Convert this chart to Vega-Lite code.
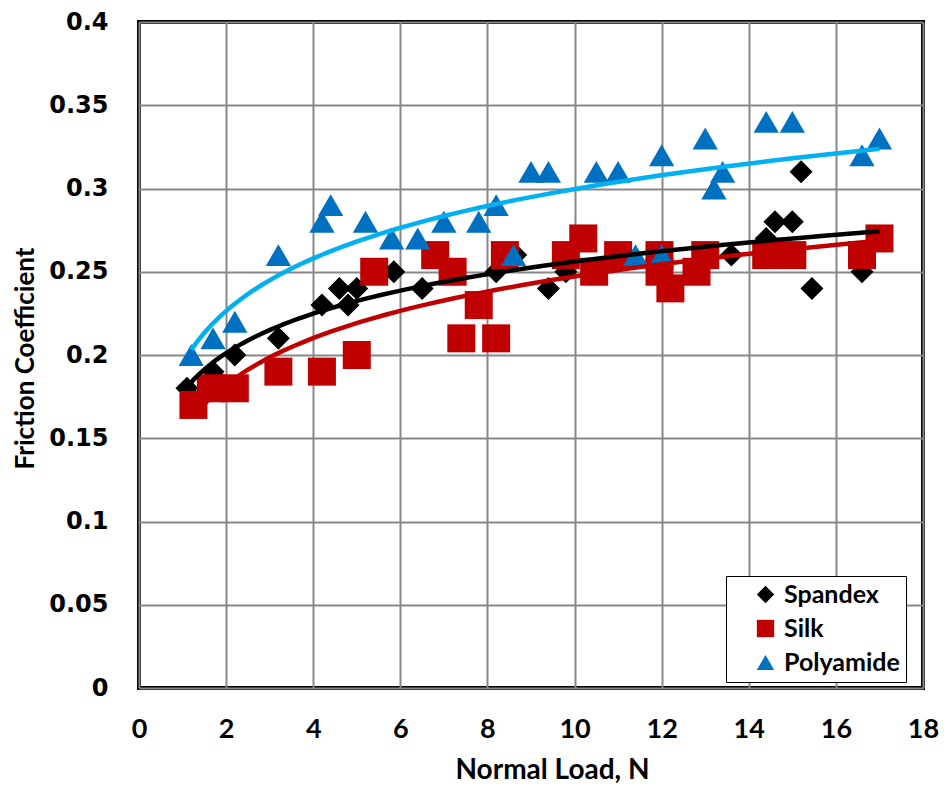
{
  "$schema": "https://vega.github.io/schema/vega-lite/v6.json",
  "autosize": "none",
  "width": 784,
  "height": 666,
  "padding": {"left": 139, "top": 22, "right": 24, "bottom": 97},
  "background": "white",
  "config": {
    "view": {"stroke": "black", "strokeWidth": 4},
    "axis": {"grid": true, "gridColor": "#888888", "gridWidth": 2, "domain": false, "ticks": false},
    "legend": {
      "title": null, "orient": "none", "legendX": 587, "legendY": 554,
      "padding": 6, "rowPadding": 8, "symbolSize": 300, "symbolOffset": 21, "labelOffset": 6,
      "labelFont": "Lato", "labelFontWeight": "bold", "labelFontSize": 25, "labelColor": "black",
      "strokeColor": "black", "fillColor": "white", "symbolStrokeWidth": 0
    }
  },
  "datasets": {
    "pts": [
      {"series": "Spandex", "x": 1.1, "y": 0.18},
      {"series": "Spandex", "x": 1.7, "y": 0.19},
      {"series": "Spandex", "x": 2.2, "y": 0.20},
      {"series": "Spandex", "x": 3.2, "y": 0.21},
      {"series": "Spandex", "x": 4.2, "y": 0.23},
      {"series": "Spandex", "x": 4.6, "y": 0.24},
      {"series": "Spandex", "x": 4.8, "y": 0.23},
      {"series": "Spandex", "x": 5.0, "y": 0.24},
      {"series": "Spandex", "x": 5.85, "y": 0.25},
      {"series": "Spandex", "x": 6.5, "y": 0.24},
      {"series": "Spandex", "x": 8.2, "y": 0.25},
      {"series": "Spandex", "x": 8.65, "y": 0.26},
      {"series": "Spandex", "x": 9.4, "y": 0.24},
      {"series": "Spandex", "x": 9.8, "y": 0.25},
      {"series": "Spandex", "x": 13.6, "y": 0.26},
      {"series": "Spandex", "x": 14.4, "y": 0.27},
      {"series": "Spandex", "x": 14.6, "y": 0.28},
      {"series": "Spandex", "x": 15.0, "y": 0.28},
      {"series": "Spandex", "x": 15.2, "y": 0.31},
      {"series": "Spandex", "x": 15.45, "y": 0.24},
      {"series": "Spandex", "x": 16.6, "y": 0.25},
      {"series": "Spandex", "x": 17.0, "y": 0.27},
      {"series": "Silk", "x": 1.25, "y": 0.17},
      {"series": "Silk", "x": 1.65, "y": 0.18},
      {"series": "Silk", "x": 2.2, "y": 0.18},
      {"series": "Silk", "x": 3.2, "y": 0.19},
      {"series": "Silk", "x": 4.2, "y": 0.19},
      {"series": "Silk", "x": 5.0, "y": 0.20},
      {"series": "Silk", "x": 5.4, "y": 0.25},
      {"series": "Silk", "x": 6.8, "y": 0.26},
      {"series": "Silk", "x": 7.2, "y": 0.25},
      {"series": "Silk", "x": 7.4, "y": 0.21},
      {"series": "Silk", "x": 7.8, "y": 0.23},
      {"series": "Silk", "x": 8.2, "y": 0.21},
      {"series": "Silk", "x": 8.4, "y": 0.26},
      {"series": "Silk", "x": 9.8, "y": 0.26},
      {"series": "Silk", "x": 10.2, "y": 0.27},
      {"series": "Silk", "x": 10.45, "y": 0.25},
      {"series": "Silk", "x": 11.0, "y": 0.26},
      {"series": "Silk", "x": 11.95, "y": 0.26},
      {"series": "Silk", "x": 11.95, "y": 0.25},
      {"series": "Silk", "x": 12.2, "y": 0.24},
      {"series": "Silk", "x": 12.8, "y": 0.25},
      {"series": "Silk", "x": 13.0, "y": 0.26},
      {"series": "Silk", "x": 14.4, "y": 0.26},
      {"series": "Silk", "x": 15.0, "y": 0.26},
      {"series": "Silk", "x": 16.6, "y": 0.26},
      {"series": "Silk", "x": 17.0, "y": 0.27},
      {"series": "Polyamide", "x": 1.2, "y": 0.20},
      {"series": "Polyamide", "x": 1.7, "y": 0.21},
      {"series": "Polyamide", "x": 2.2, "y": 0.22},
      {"series": "Polyamide", "x": 3.2, "y": 0.26},
      {"series": "Polyamide", "x": 4.2, "y": 0.28},
      {"series": "Polyamide", "x": 4.4, "y": 0.29},
      {"series": "Polyamide", "x": 5.2, "y": 0.28},
      {"series": "Polyamide", "x": 5.8, "y": 0.27},
      {"series": "Polyamide", "x": 6.4, "y": 0.27},
      {"series": "Polyamide", "x": 7.0, "y": 0.28},
      {"series": "Polyamide", "x": 7.8, "y": 0.28},
      {"series": "Polyamide", "x": 8.2, "y": 0.29},
      {"series": "Polyamide", "x": 8.6, "y": 0.26},
      {"series": "Polyamide", "x": 9.0, "y": 0.31},
      {"series": "Polyamide", "x": 9.4, "y": 0.31},
      {"series": "Polyamide", "x": 10.5, "y": 0.31},
      {"series": "Polyamide", "x": 11.0, "y": 0.31},
      {"series": "Polyamide", "x": 11.4, "y": 0.26},
      {"series": "Polyamide", "x": 12.0, "y": 0.32},
      {"series": "Polyamide", "x": 12.0, "y": 0.26},
      {"series": "Polyamide", "x": 13.0, "y": 0.33},
      {"series": "Polyamide", "x": 13.2, "y": 0.30},
      {"series": "Polyamide", "x": 13.4, "y": 0.31},
      {"series": "Polyamide", "x": 14.4, "y": 0.34},
      {"series": "Polyamide", "x": 15.0, "y": 0.34},
      {"series": "Polyamide", "x": 16.6, "y": 0.32},
      {"series": "Polyamide", "x": 17.0, "y": 0.33}
    ]
  },
  "data": {"name": "pts"},
  "encoding": {
    "x": {
      "field": "x", "type": "quantitative",
      "scale": {"domain": [0, 18], "nice": false, "zero": false},
      "axis": {
        "values": [0, 2, 4, 6, 8, 10, 12, 14, 16, 18],
        "title": "Normal Load, N",
        "labelFont": "Lato", "labelFontWeight": "bold", "labelFontSize": 27, "labelColor": "black",
        "labelPadding": 28, "labelFlush": false,
        "titleFont": "Lato", "titleFontWeight": "bold", "titleFontSize": 28, "titleColor": "black",
        "titleX": 413, "titleY": 90, "titleBaseline": "alphabetic", "titleAnchor": null, "titleAlign": "center"
      }
    },
    "y": {
      "field": "y", "type": "quantitative",
      "scale": {"domain": [0, 0.4], "nice": false, "zero": false},
      "axis": {
        "values": [0, 0.05, 0.1, 0.15, 0.2, 0.25, 0.3, 0.35, 0.4],
        "format": "~g",
        "title": "Friction Coefficient",
        "labelFont": "DejaVu Sans", "labelFontWeight": "bold", "labelFontSize": 24, "labelColor": "black",
        "labelPadding": 31, "labelFlush": false,
        "titleFont": "Lato", "titleFontWeight": "bold", "titleFontSize": 26, "titleColor": "black",
        "titleX": -114, "titleY": 336, "titleAngle": 270, "titleBaseline": "middle", "titleAlign": "center"
      }
    },
    "color": {
      "field": "series", "type": "nominal",
      "scale": {"domain": ["Spandex", "Silk", "Polyamide"], "range": ["#000000", "#C00000", "#0070C0"]},
      "legend": {"labelExpr": "datum.label + '\u00a0\u00a0\u00a0'", "encode": {"legend": {"update": {"strokeWidth": {"value": 3}}}}}
    },
    "shape": {
      "field": "series", "type": "nominal",
      "scale": {"domain": ["Spandex", "Silk", "Polyamide"], "range": ["diamond", "square", "triangle-up"]},
      "legend": {"labelExpr": "datum.label + '\u00a0\u00a0\u00a0'", "encode": {"legend": {"update": {"strokeWidth": {"value": 3}}}}}
    }
  },
  "layer": [
    {
      "transform": [{"filter": "datum.series === 'Spandex'"}],
      "mark": {"type": "point", "filled": true, "opacity": 1, "strokeWidth": 0, "size": 529}
    },
    {
      "transform": [{"filter": "datum.series === 'Silk'"}],
      "mark": {"type": "point", "filled": true, "opacity": 1, "strokeWidth": 0, "size": 784}
    },
    {
      "transform": [{"filter": "datum.series === 'Polyamide'"}],
      "mark": {"type": "point", "filled": true, "opacity": 1, "strokeWidth": 0, "size": 640}
    },
    {
      "transform": [
        {"regression": "y", "on": "x", "groupby": ["series"], "method": "log"}
      ],
      "mark": {"type": "line", "strokeWidth": 4.5},
      "encoding": {
        "color": null,
        "shape": null,
        "stroke": {
          "field": "series", "type": "nominal",
          "scale": {"domain": ["Spandex", "Silk", "Polyamide"], "range": ["#000000", "#C00000", "#00B0F0"]},
          "legend": null
        }
      }
    }
  ]
}
